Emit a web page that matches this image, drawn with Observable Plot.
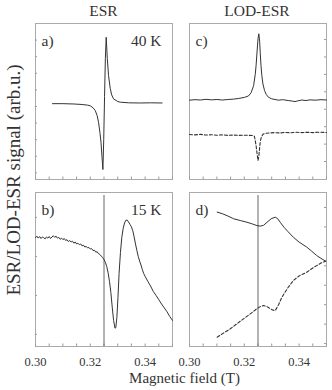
<!DOCTYPE html>
<html>
<head>
<meta charset="utf-8">
<script src="https://cdn.jsdelivr.net/npm/d3@7"></script>
<script src="https://cdn.jsdelivr.net/npm/@observablehq/plot@0.6"></script>
<style>
  html, body { margin: 0; padding: 0; background: #fff; }
  #wrap { position: relative; width: 332px; height: 390px; overflow: hidden; background: #fff; }
  #wrap > svg.panel { position: absolute; }
  #overlay { position: absolute; left: 0; top: 0; pointer-events: none; }
  #wrap svg, #wrap svg text { font-family: "Liberation Serif", "Tinos", "DejaVu Serif", serif !important; }
</style>
</head>
<body>
<div id="wrap">
  <svg id="overlay" width="332" height="390" fill="#333">
    <text x="103.5" y="15.5" text-anchor="middle" font-size="15.5">ESR</text>
    <text x="257" y="15.5" text-anchor="middle" font-size="15.5">LOD-ESR</text>
    <text x="184.5" y="382.5" text-anchor="middle" font-size="15">Magnetic field (T)</text>
    <text transform="translate(20,180) rotate(-90)" text-anchor="middle" font-size="19">ESR/LOD-ESR signal (arb.u.)</text>
  </svg>
</div>
<script>
// ---------- data ----------
const resonanceField = 0.325;
const xMinorTicks = [0.300, 0.305, 0.310, 0.315, 0.320, 0.325, 0.330, 0.335, 0.340, 0.345, 0.350];
const xLabelTicks = [0.30, 0.32, 0.34];

// a) ESR 40 K
const aField = [0.3062, 0.3100, 0.3140, 0.3170, 0.3190, 0.3200, 0.3210, 0.3218, 0.3225, 0.3230, 0.3235, 0.3239, 0.3243, 0.3246, 0.3249, 0.3252, 0.3255, 0.3258, 0.3262, 0.32665, 0.32727, 0.3278, 0.32847, 0.3300, 0.3309, 0.3340, 0.3380, 0.3420, 0.3462];
const aSignal = [4.17, 4.17, 4.15, 4.12, 4.08, 4.04, 3.92, 3.76, 3.45, 3.05, 2.45, 1.84, 0.90, 0.20, 2.00, 4.60, 6.90, 8.17, 6.90, 5.87, 5.09, 4.70, 4.46, 4.30, 4.26, 4.22, 4.21, 4.22, 4.21];
const aYTicks = [0, 1, 2, 3, 4, 5, 6, 7, 8];

// b) ESR 15 K
const bField = [0.3000, 0.3005, 0.3010, 0.3015, 0.3020, 0.3025, 0.3030, 0.3035, 0.3040, 0.3045, 0.3050, 0.3055, 0.3060, 0.3065, 0.3070, 0.3075, 0.3080, 0.3085, 0.3090, 0.3095, 0.3100, 0.3105, 0.3110, 0.3115, 0.3120, 0.3125, 0.3130, 0.3135, 0.3140, 0.3145, 0.3150, 0.3155, 0.3160, 0.3165, 0.3170, 0.3175, 0.3180, 0.3185, 0.3190, 0.3195, 0.3200, 0.3205, 0.3210, 0.3215, 0.3220, 0.3225, 0.3230, 0.3235, 0.3240, 0.3245, 0.3250, 0.3255, 0.3260, 0.3265, 0.3270, 0.3275, 0.3280, 0.3285, 0.3290, 0.3293, 0.3297, 0.3301, 0.3305, 0.3310, 0.3315, 0.3320, 0.3325, 0.3330, 0.3335, 0.3340, 0.3345, 0.3350, 0.3355, 0.3360, 0.3365, 0.3370, 0.3375, 0.3380, 0.3385, 0.3390, 0.3395, 0.3400, 0.3410, 0.3420, 0.3430, 0.3440, 0.3450, 0.3460, 0.3470, 0.3480, 0.3490, 0.3500];
const bSignal = [2.48, 2.52, 2.47, 2.51, 2.46, 2.50, 2.48, 2.45, 2.50, 2.47, 2.51, 2.46, 2.50, 2.53, 2.49, 2.52, 2.47, 2.49, 2.44, 2.47, 2.43, 2.46, 2.41, 2.43, 2.38, 2.41, 2.37, 2.39, 2.34, 2.37, 2.32, 2.34, 2.30, 2.32, 2.27, 2.29, 2.24, 2.26, 2.22, 2.23, 2.19, 2.20, 2.15, 2.16, 2.11, 2.12, 2.07, 2.05, 2.01, 1.97, 1.92, 1.85, 1.74, 1.58, 1.36, 1.08, 0.70, 0.36, 0.16, 0.17, 0.44, 0.95, 1.56, 2.10, 2.49, 2.72, 2.86, 2.93, 2.93, 2.88, 2.82, 2.76, 2.66, 2.50, 2.32, 2.15, 2.00, 1.88, 1.78, 1.66, 1.56, 1.49, 1.36, 1.24, 1.10, 1.00, 0.89, 0.78, 0.68, 0.58, 0.46, 0.36];
const bYTicks = [0, 1, 2, 3];

// c) LOD-ESR (solid and dashed)
const cField = [0.3000, 0.3020, 0.3040, 0.3060, 0.3080, 0.3100, 0.3120, 0.3140, 0.3160, 0.3180, 0.3200, 0.3215, 0.3225, 0.3234, 0.3240, 0.3243, 0.3247, 0.3250, 0.3253, 0.3256, 0.3258, 0.3261, 0.3264, 0.3268, 0.3274, 0.3280, 0.3288, 0.3300, 0.3325, 0.3340, 0.3360, 0.3375, 0.3385, 0.3395, 0.3410, 0.3425, 0.3440, 0.3460, 0.3480, 0.3500];
const cSolid = [3.52, 3.55, 3.53, 3.57, 3.54, 3.56, 3.53, 3.56, 3.58, 3.62, 3.68, 3.76, 3.95, 4.36, 5.00, 5.51, 6.40, 7.04, 7.33, 6.90, 6.27, 5.50, 4.93, 4.45, 4.07, 3.85, 3.69, 3.60, 3.52, 3.55, 3.50, 3.47, 3.44, 3.48, 3.53, 3.50, 3.54, 3.52, 3.55, 3.53];
const cDashField = [0.3000, 0.3020, 0.3040, 0.3060, 0.3080, 0.3100, 0.3120, 0.3140, 0.3160, 0.3180, 0.3200, 0.3220, 0.3232, 0.3237, 0.3243, 0.3247, 0.3250, 0.3253, 0.3256, 0.3258, 0.3262, 0.3268, 0.3275, 0.3290, 0.3310, 0.3330, 0.3350, 0.3370, 0.3390, 0.3410, 0.3430, 0.3450, 0.3470, 0.3500];
const cDashed = [1.55, 1.53, 1.56, 1.52, 1.54, 1.51, 1.53, 1.50, 1.52, 1.50, 1.51, 1.50, 1.49, 1.45, 0.92, 0.40, 0.06, 0.30, 0.80, 1.11, 1.40, 1.56, 1.62, 1.64, 1.66, 1.64, 1.67, 1.65, 1.68, 1.66, 1.68, 1.66, 1.68, 1.67];
const cYTicks = [0, 1, 2, 3, 4, 5, 6, 7];

// d) LOD-ESR (solid and dashed)
const dField = [0.3101, 0.3120, 0.3140, 0.3161, 0.3185, 0.3210, 0.3230, 0.3246, 0.3258, 0.3270, 0.3283, 0.3298, 0.3313, 0.3322, 0.3331, 0.3345, 0.3360, 0.3379, 0.3400, 0.3428, 0.3446, 0.3464, 0.3480, 0.3497];
const dSolid = [6.76, 6.68, 6.56, 6.42, 6.33, 6.24, 6.15, 6.07, 6.04, 6.08, 6.24, 6.42, 6.50, 6.42, 6.24, 5.98, 5.75, 5.47, 5.22, 4.96, 4.75, 4.53, 4.38, 4.24];
const dDashField = [0.3101, 0.3125, 0.3149, 0.3173, 0.3197, 0.3222, 0.3246, 0.3258, 0.3270, 0.3283, 0.3295, 0.3305, 0.3313, 0.3325, 0.3337, 0.3358, 0.3379, 0.3400, 0.3428, 0.3446, 0.3464, 0.3480, 0.3497];
const dDashed = [0.33, 0.55, 0.76, 1.02, 1.27, 1.53, 1.79, 1.90, 1.96, 1.90, 1.79, 1.72, 1.70, 2.00, 2.38, 2.85, 3.24, 3.48, 3.67, 3.85, 4.01, 4.14, 4.24];
const dYTicks = [0, 1, 2, 3, 4, 5, 6, 7];

// ---------- drawing ----------
const zip = (xs, ys) => xs.map((f, i) => ({f, v: ys[i]}));
const INK = "#333";
const GRID = "#aaa";
const TICK = "#999";
const SERIF = '"Liberation Serif", "Tinos", "DejaVu Serif", serif';

function panel({left, top, innerH, yDomain, yTicks, side, curves, label, temp, rule, xLabels}) {
  const innerW = 137;
  const mb = xLabels ? 40 : 10;
  const marks = [
    Plot.frame({stroke: GRID}),
    Plot.tickX(xMinorTicks, {x: d => d, stroke: TICK, insetTop: innerH - 2.5}),
    side === "left"
      ? Plot.tickY(yTicks, {y: d => d, stroke: TICK, insetRight: innerW - 2})
      : Plot.tickY(yTicks, {y: d => d, stroke: TICK, insetLeft: innerW - 2})
  ];
  if (rule) marks.push(Plot.ruleX([resonanceField], {x: d => d, stroke: "#666", strokeWidth: 1, insetTop: 3}));
  for (const c of curves) {
    marks.push(Plot.line(c.data, {x: "f", y: "v", stroke: INK, strokeWidth: c.dash ? 1.1 : 1, strokeDasharray: c.dash || null}));
  }
  marks.push(Plot.text([label], {text: d => d, frameAnchor: "top-left", dx: 6, dy: 11, fontSize: 15.5, fill: INK, fontFamily: SERIF}));
  if (temp) marks.push(Plot.text([temp], {text: d => d, frameAnchor: "top-right", dx: -11, dy: 11, fontSize: 15.5, fill: INK, fontFamily: SERIF}));
  if (xLabels) marks.push(Plot.axisX(xLabelTicks, {tickSize: 0, tickPadding: 11, tickFormat: d3.format(".2f"), fontSize: 12.5, fill: INK, label: null, fontFamily: SERIF}));
  const svg = Plot.plot({
    width: innerW + 20,
    height: innerH + 10 + mb,
    marginLeft: 10, marginRight: 10, marginTop: 10, marginBottom: mb,
    x: {domain: [0.30, 0.35], axis: null},
    y: {domain: yDomain, axis: null},
    style: {fontFamily: SERIF, fontSize: "13px", color: INK, background: "transparent", overflow: "visible"},
    marks
  });
  svg.classList.add("panel");
  svg.style.left = left + "px";
  svg.style.top = top + "px";
  return svg;
}

const wrap = document.getElementById("wrap");
const overlay = document.getElementById("overlay");
const panels = [
  panel({left: 25, top: 13, innerH: 156, yDomain: [-0.4, 9], yTicks: aYTicks, side: "left",
         curves: [{data: zip(aField, aSignal)}], label: "a)", temp: "40 K"}),
  panel({left: 179, top: 13, innerH: 156, yDomain: [-1.03, 7.92], yTicks: cYTicks, side: "right",
         curves: [{data: zip(cField, cSolid)}, {data: zip(cDashField, cDashed), dash: "3,2"}], label: "c)"}),
  panel({left: 25, top: 182, innerH: 154, yDomain: [-0.31, 3.64], yTicks: bYTicks, side: "left",
         curves: [{data: zip(bField, bSignal)}], label: "b)", temp: "15 K", rule: true, xLabels: true}),
  panel({left: 179, top: 182, innerH: 154, yDomain: [-0.15, 7.77], yTicks: dYTicks, side: "right",
         curves: [{data: zip(dField, dSolid)}, {data: zip(dDashField, dDashed), dash: "3,2"}], label: "d)", rule: true, xLabels: true})
];
for (const p of panels) wrap.insertBefore(p, overlay);
</script>
</body>
</html>
